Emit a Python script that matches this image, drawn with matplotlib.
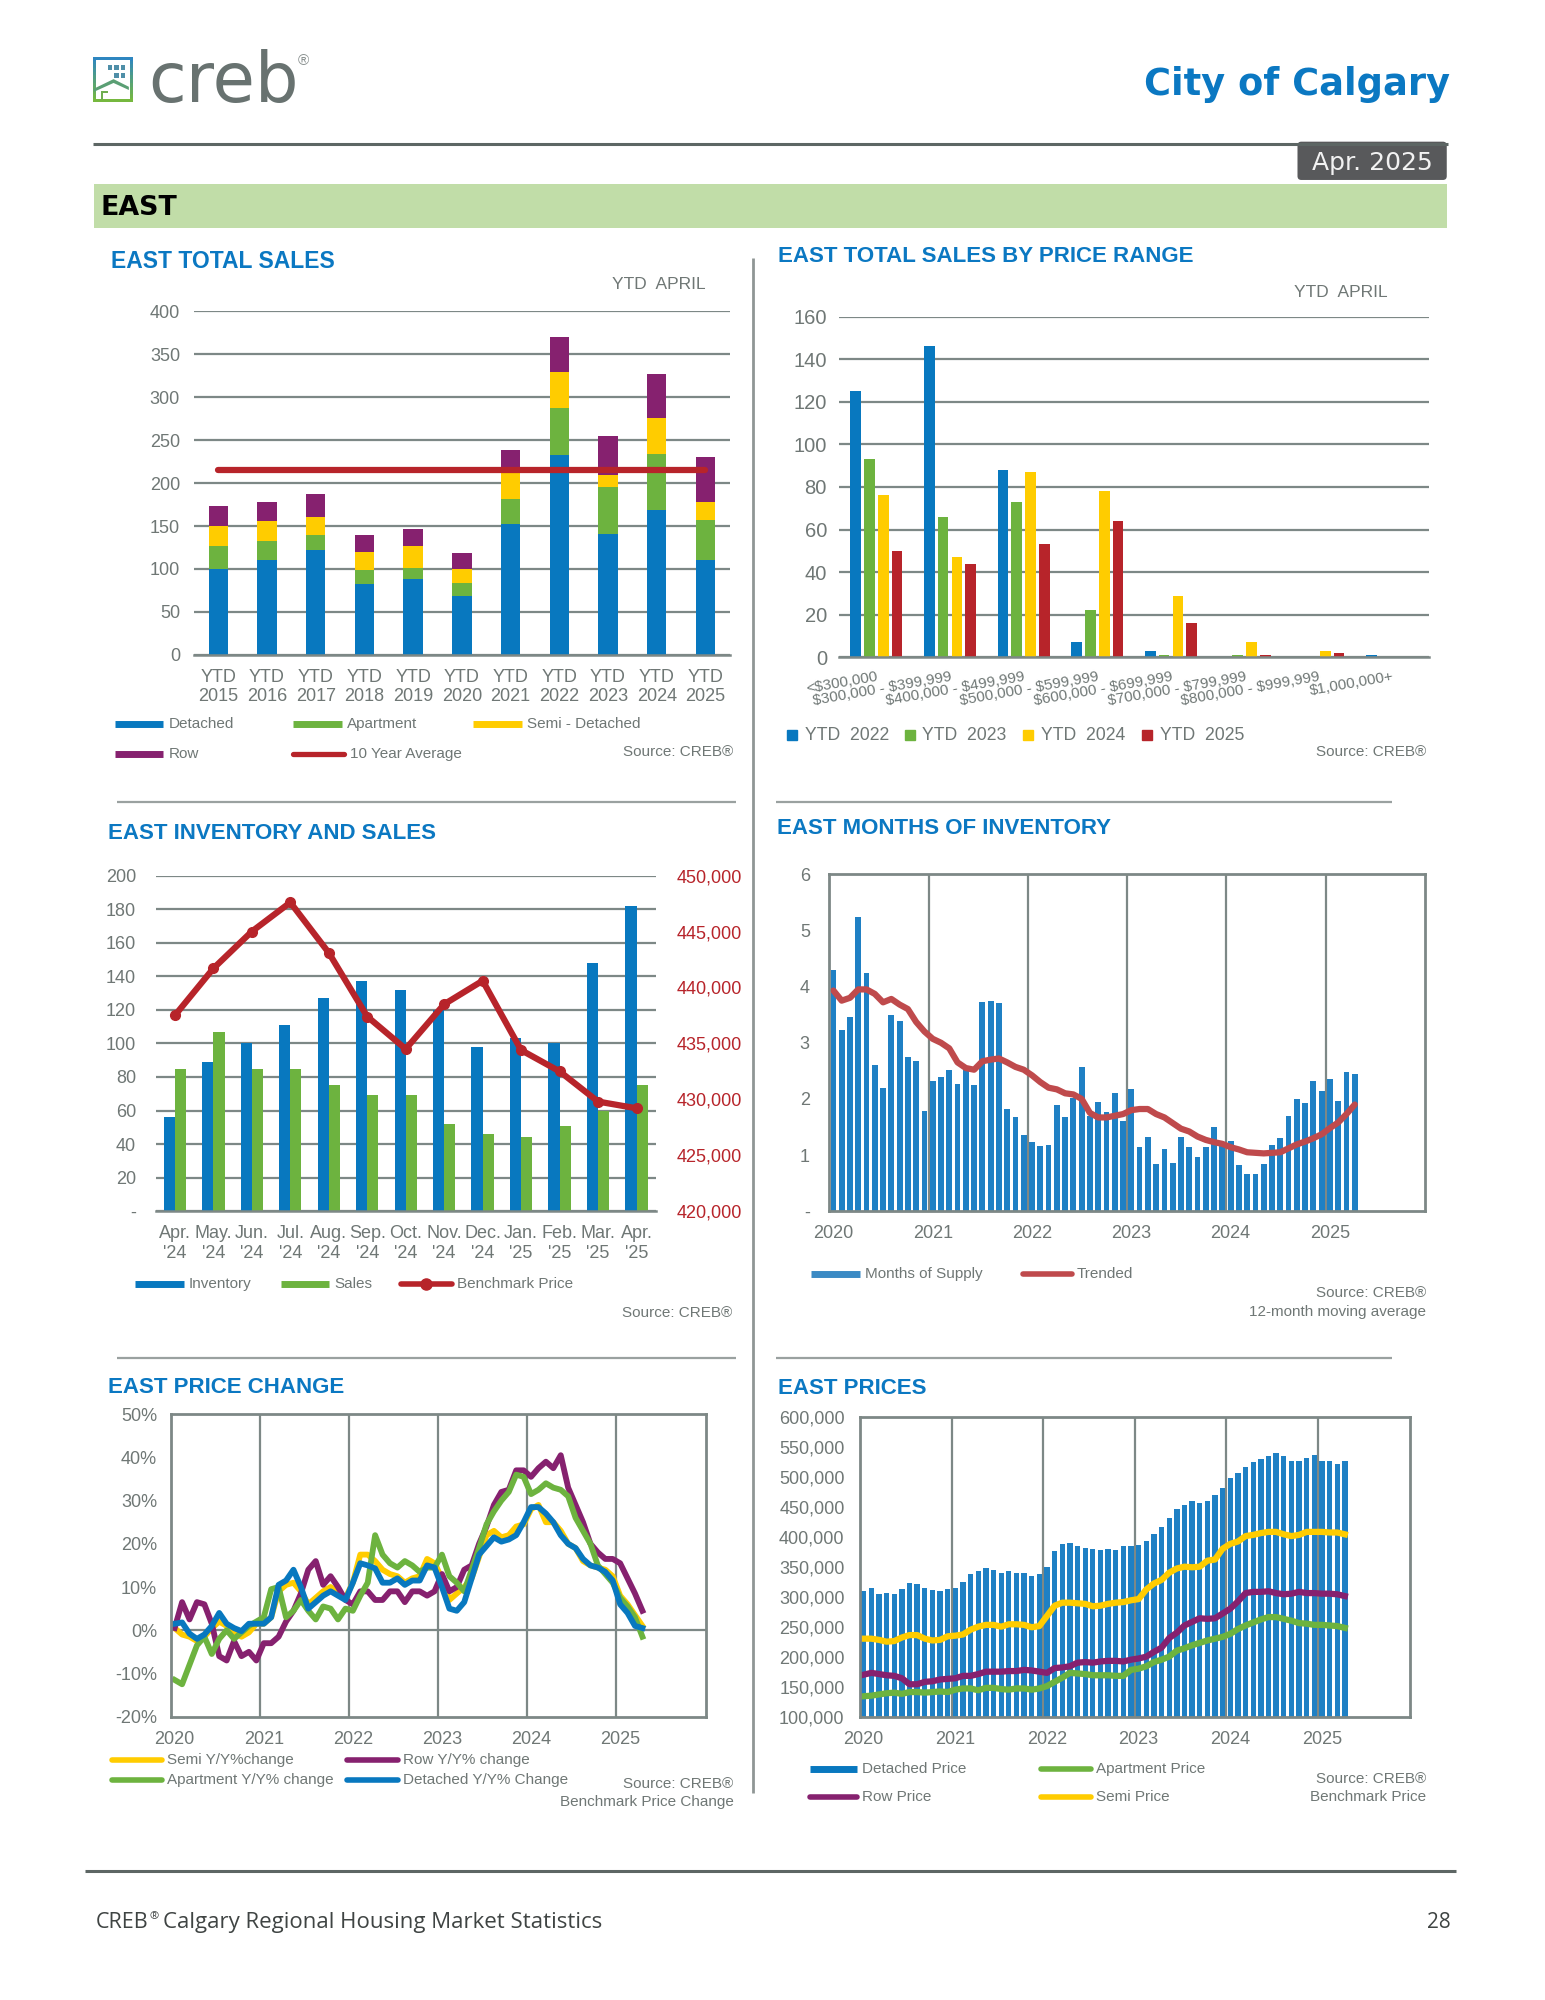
#!/usr/bin/env python3
# -*- coding: utf-8 -*-
import matplotlib
matplotlib.use("Agg")
import numpy as np
import matplotlib.pyplot as plt
from matplotlib.colors import to_rgb
from matplotlib.patches import Rectangle, FancyBboxPatch, Polygon
from matplotlib.ticker import FuncFormatter

plt.rcParams['font.family'] = ['Liberation Sans', 'DejaVu Sans']
plt.rcParams['text.parse_math'] = False

# Total sales, YTD april
ytd_years = ["YTD\n2015", "YTD\n2016", "YTD\n2017", "YTD\n2018", "YTD\n2019", "YTD\n2020",
             "YTD\n2021", "YTD\n2022", "YTD\n2023", "YTD\n2024", "YTD\n2025"]
sales_detached = [100, 110, 122, 82, 88, 69, 152, 233, 141, 169, 110]
sales_apartment = [27, 22, 17, 17, 13, 15, 29, 55, 55, 65, 47]
sales_semi = [23, 24, 21, 21, 26, 16, 33, 41, 13, 42, 21]
sales_row = [23, 22, 27, 20, 20, 19, 24, 41, 46, 51, 52]
ten_year_avg = [215] * 11

# Sales by price range
price_ranges = ["<$300,000", "$300,000 - $399,999", "$400,000 - $499,999", "$500,000 - $599,999",
                "$600,000 - $699,999", "$700,000 - $799,999", "$800,000 - $999,999", "$1,000,000+"]
range_2022 = [125, 146, 88, 7, 3, 0, 0, 1]
range_2023 = [93, 66, 73, 22, 1, 1, 0, 0]
range_2024 = [76, 47, 87, 78, 29, 7, 3, 0]
range_2025 = [50, 44, 53, 64, 16, 1, 2, 0]

# Inventory and sales
inv_months = ["Apr.\n'24", "May.\n'24", "Jun.\n'24", "Jul.\n'24", "Aug.\n'24", "Sep.\n'24", "Oct.\n'24",
              "Nov.\n'24", "Dec.\n'24", "Jan.\n'25", "Feb.\n'25", "Mar.\n'25", "Apr.\n'25"]
inventory = [56, 89, 100, 111, 127, 137, 132, 120, 98, 103, 100, 148, 182]
inv_sales = [85, 107, 85, 85, 75, 69, 69, 52, 46, 44, 51, 60, 75]
benchmark = [437500, 441700, 445000, 447600, 443100, 437400, 434500, 438500, 440600,
             434400, 432500, 429800, 429200]

# Monthly series, Jan 2020 to Apr 2025
year_labels = ["2020", "2021", "2022", "2023", "2024", "2025"]
months_supply = [4.3, 3.23, 3.46, 5.24, 4.24, 2.6, 2.2, 3.5, 3.38, 2.74, 2.67, 1.78,
                 2.32, 2.39, 2.51, 2.26, 2.55, 2.25, 3.72, 3.74, 3.71, 1.82, 1.67, 1.35,
                 1.23, 1.17, 1.18, 1.9, 1.68, 2.02, 2.56, 1.7, 1.95, 1.76, 2.1, 1.6,
                 2.17, 1.15, 1.33, 0.84, 1.1, 0.85, 1.32, 1.15, 0.96, 1.15, 1.5, 1.2,
                 1.25, 0.82, 0.66, 0.67, 0.84, 1.18, 1.31, 1.7, 2.0, 1.92, 2.32, 2.14,
                 2.35, 1.97, 2.48, 2.44]
trended = [3.93, 3.75, 3.8, 3.95, 3.95, 3.87, 3.72, 3.78, 3.68, 3.6, 3.37, 3.2,
           3.07, 3.0, 2.9, 2.65, 2.55, 2.52, 2.67, 2.7, 2.72, 2.65, 2.57, 2.52,
           2.42, 2.3, 2.2, 2.17, 2.1, 2.08, 2.0, 1.75, 1.67, 1.67, 1.7, 1.73,
           1.8, 1.82, 1.82, 1.73, 1.67, 1.57, 1.47, 1.42, 1.33, 1.27, 1.23, 1.2,
           1.14, 1.1, 1.05, 1.04, 1.03, 1.04, 1.05, 1.12, 1.19, 1.24, 1.3, 1.37,
           1.48, 1.58, 1.73, 1.9]

chg_detached = [1.5, 1.8, -0.8, -2, -1, 1, 4, 1.5, 0.5, -0.2, 1.5, 1.5,
                1.5, 3, 10.5, 11.5, 14, 10, 5, 6.5, 8, 9, 8, 7,
                11, 15.5, 15, 14.3, 11, 11, 12, 10.5, 11.5, 11.5, 15, 14.5,
                10, 5, 4.5, 6.5, 12, 17.5, 19.5, 21.5, 20.5, 21, 22, 25,
                28.5, 28.5, 27, 25, 22, 20, 19, 16.5, 15, 14.5, 13.5, 11.5,
                6, 4, 1, 0.5]
chg_semi = [0.5, -1, -1.5, -2.5, -1.5, 0.5, 2, 1, -0.5, -1.5, -0.5, 1.5,
            1.5, 3, 9, 10.5, 11, 9, 6, 7.5, 9, 10, 8.5, 7.5,
            11, 17.5, 17.5, 16, 14, 13, 12.5, 11, 12, 12.5, 16.5, 15.5,
            12, 7, 8.5, 10, 12, 17, 22, 23, 21.5, 22, 24, 24.5,
            28, 29, 25, 25, 23, 20, 19, 16, 15, 14.5, 14, 12.5,
            8, 6, 3.5, 1]
chg_apartment = [-11.5, -12.5, -8, -3.5, -1.5, -5.5, -2, 0, -2, -0.5, 1, 2,
                 3, 9.5, 10, 3, 4.5, 7, 4.5, 2.5, 5.5, 5, 2.5, 5,
                 4.5, 8, 11, 22, 17.5, 15.5, 14.5, 16, 15, 13.5, 14.5, 14.5,
                 17.5, 12.5, 11, 9, 14, 19, 24.5, 27.5, 30, 32, 36, 35.5,
                 31.5, 32.5, 34, 33, 32.5, 31, 26, 23, 20, 15, 13, 11,
                 7.5, 5.5, 3, -1.5]
chg_row = [0.5, 6.5, 2.5, 6.5, 6, 1.5, -6, -7, -2.5, -6, -5, -7,
           -3, -3, -1.5, 2, 4.5, 8.5, 14, 16, 10.5, 12.5, 10, 7,
           6, 9, 9, 7, 7, 9, 9, 6.5, 9, 9, 8, 9,
           13, 9, 10, 14, 15, 20, 24, 29, 32, 32.5, 37, 37,
           35.5, 37.5, 39, 37.5, 40.5, 33, 29, 25, 20, 18, 16.5, 16.5,
           15.5, 12, 8.5, 4.5]

price_detached = [310, 315, 305, 306, 305, 312, 322, 321, 314, 311, 309, 313,
                  314, 324, 338, 342, 347, 345, 339, 342, 340, 340, 335, 337,
                  350, 376, 388, 390, 384, 381, 379, 378, 379, 378, 384, 385,
                  386, 393, 405, 416, 431, 447, 453, 459, 457, 459, 469, 481,
                  498, 506, 517, 524, 530, 534, 539, 535, 527, 526, 532, 536,
                  526, 526, 522, 526]
price_semi = [230, 230, 228, 225, 226, 232, 236, 236, 230, 227, 228, 234,
              235, 237, 245, 250, 253, 253, 250, 254, 254, 253, 249, 251,
              268, 285, 290, 290, 289, 288, 284, 285, 288, 290, 291, 294,
              296, 312, 322, 328, 340, 347, 350, 349, 350, 360, 362, 380,
              388, 392, 401, 403, 406, 408, 408, 404, 401, 403, 408, 408,
              408, 407, 407, 404]
price_row = [170, 173, 171, 169, 168, 164, 154, 154, 158, 159, 162, 163,
             164, 168, 168, 171, 175, 175, 175, 176, 176, 178, 177, 175,
             173, 181, 182, 184, 190, 191, 190, 192, 193, 193, 192, 195,
             197, 200, 208, 215, 231, 240, 252, 258, 264, 263, 264, 272,
             280, 292, 306, 308, 308, 309, 306, 304, 305, 308, 306, 306,
             305, 305, 304, 301]
price_apartment = [134, 135, 137, 139, 140, 138, 141, 141, 140, 141, 142, 141,
                   145, 147, 147, 144, 148, 148, 146, 145, 147, 147, 145, 147,
                   151, 158, 165, 173, 172, 171, 169, 169, 169, 168, 168, 178,
                   180, 184, 191, 195, 200, 210, 214, 219, 223, 227, 230, 233,
                   238, 246, 252, 257, 262, 266, 266, 263, 260, 256, 255, 253,
                   253, 252, 251, 248]

# Colours
BLUE = '#0878bf'
GREEN = '#6db33f'
YELLOW = '#ffcc00'
PURPLE = '#86216f'
RED = '#b7242a'
GRID = '#7d8886'
TEXT = '#6f7775'
TITLE = '#0b78c2'
WIDE = ['DejaVu Sans']

# Page layout in pixels of the frame
W, H = 1211, 1567
fig = plt.figure(figsize=(15.45, 20), dpi=100)


def add_axes(x0, y0, x1, y1):
    ax = fig.add_axes([x0/W, 1 - y1/H, (x1 - x0)/W, (y1 - y0)/H])
    ax.set_axisbelow(True)
    ax.tick_params(length=0, labelsize=13, labelcolor=TEXT, pad=8)
    return ax


def hgrid_axes(x0, y0, x1, y1):
    ax = add_axes(x0, y0, x1, y1)
    ax.grid(axis='y', color=GRID, lw=1.6)
    for s in ['top', 'left', 'right']:
        ax.spines[s].set_visible(False)
    ax.spines['bottom'].set_color(GRID)
    ax.spines['bottom'].set_linewidth(1.8)
    return ax


def box_axes(x0, y0, x1, y1):
    ax = add_axes(x0, y0, x1, y1)
    ax.set_xlim(-0.5, 71.5)
    ax.set_xticks(np.arange(0, 72, 12), year_labels)
    for v in np.arange(11.5, 71, 12):
        ax.axvline(v, color=GRID, lw=1.6, zorder=0.5)
    for s in ax.spines.values():
        s.set_color(GRID)
        s.set_linewidth(2)
    return ax


# Chart 1
ax1 = hgrid_axes(152, 244, 572, 513)
x = np.arange(len(ytd_years))
bottom = np.zeros(len(x))
for vals, col in [(sales_detached, BLUE), (sales_apartment, GREEN), (sales_semi, YELLOW), (sales_row, PURPLE)]:
    ax1.bar(x, vals, 0.4, bottom=bottom, color=col)
    bottom += np.array(vals)
ax1.plot(x, ten_year_avg, color=RED, lw=4.5, solid_capstyle='round')
ax1.set_xlim(-0.5, 10.5)
ax1.set_ylim(0, 400)
ax1.set_yticks(np.arange(0, 401, 50))
ax1.set_xticks(x, ytd_years, linespacing=1.15)
ax1.tick_params(axis='x', pad=10)
ax1.tick_params(axis='y', pad=10)

# Chart 2
ax2 = hgrid_axes(658, 248, 1120, 515)
x = np.arange(len(price_ranges))
for k, (vals, col) in enumerate([(range_2022, BLUE), (range_2023, GREEN), (range_2024, YELLOW), (range_2025, RED)]):
    ax2.bar(x + (k - 1.5)*0.1875, vals, 0.145, color=col)
ax2.set_xlim(-0.5, 7.5)
ax2.set_ylim(0, 160)
ax2.set_yticks(np.arange(0, 161, 20))
ax2.tick_params(axis='y', labelsize=14.5, pad=9)
ax2.set_xticks(x, price_ranges, rotation=10, ha='right', rotation_mode='anchor', fontsize=11)
ax2.tick_params(axis='x', pad=9)

# Chart 3
ax3 = hgrid_axes(122, 686, 514, 949)
x = np.arange(len(inv_months))
ax3.bar(x - 0.145, inventory, 0.29, color=BLUE)
ax3.bar(x + 0.145, inv_sales, 0.29, color=GREEN)
ax3.set_xlim(-0.5, 12.5)
ax3.set_ylim(0, 200)
ax3.set_yticks(np.arange(0, 201, 20))
ax3.yaxis.set_major_formatter(FuncFormatter(lambda v, p: '-' if v == 0 else f'{v:.0f}'))
ax3.set_xticks(x, inv_months, linespacing=1.25)
ax3.tick_params(axis='x', labelsize=13, pad=10)
ax3.tick_params(axis='y', pad=14)
ax3b = ax3.twinx()
ax3b.plot(x, benchmark, color=RED, lw=4.5, marker='o', ms=7)
ax3b.set_ylim(420000, 450000)
ax3b.set_yticks(np.arange(420000, 450001, 5000))
ax3b.yaxis.set_major_formatter(FuncFormatter(lambda v, p: f'{v:,.0f}'))
ax3b.tick_params(length=0, labelsize=13, labelcolor=RED, pad=15)
for s in ax3b.spines.values():
    s.set_visible(False)

# Chart 4
ax4 = box_axes(650, 685, 1117, 949)
x = np.arange(len(months_supply))
ax4.bar(x, months_supply, 0.7, color='#1f80c4')
ax4.plot(x, trended, color='#bf4a4c', lw=4.5, solid_capstyle='round')
ax4.set_ylim(0, 6)
ax4.set_yticks(np.arange(0, 7))
ax4.yaxis.set_major_formatter(FuncFormatter(lambda v, p: '-' if v == 0 else f'{v:.0f}'))
ax4.tick_params(axis='x', pad=10)
ax4.tick_params(axis='y', pad=14)

# Chart 5
ax5 = box_axes(134, 1108, 553, 1345)
x = np.arange(len(chg_row))
ax5.axhline(0, color=GRID, lw=1.6, zorder=0.5)
ax5.plot(x, chg_semi, color=YELLOW, lw=4.2)
ax5.plot(x, chg_row, color=PURPLE, lw=4.2)
ax5.plot(x, chg_apartment, color=GREEN, lw=4.2)
ax5.plot(x, chg_detached, color=BLUE, lw=4.2)
ax5.set_ylim(-20, 50)
ax5.set_yticks(np.arange(-20, 51, 10))
ax5.yaxis.set_major_formatter(FuncFormatter(lambda v, p: f'{v:.0f}%'))
ax5.tick_params(axis='x', pad=10)
ax5.tick_params(axis='y', pad=10)

# Chart 6 (thousands on the data side)
ax6 = box_axes(674, 1110, 1105, 1345)
x = np.arange(len(price_detached))
ax6.bar(x, price_detached, 0.7, color='#1f80c4')
ax6.plot(x, price_apartment, color=GREEN, lw=4.5)
ax6.plot(x, price_row, color=PURPLE, lw=4.5)
ax6.plot(x, price_semi, color=YELLOW, lw=4.5)
ax6.set_ylim(100, 600)
ax6.set_yticks(np.arange(100, 601, 50))
ax6.yaxis.set_major_formatter(FuncFormatter(lambda v, p: f'{v*1000:,.0f}'))
ax6.tick_params(axis='y', pad=11)
ax6.tick_params(axis='x', pad=10)

# Overlay for page furniture, in frame pixels
ov = fig.add_axes([0, 0, 1, 1], zorder=10)
ov.set_xlim(0, W)
ov.set_ylim(H, 0)
ov.axis('off')


def rule(x0, x1, y0, y1=None, color=GRID, lw=1.6):
    ov.plot([x0, x1], [y0, y0 if y1 is None else y1], color=color, lw=lw, solid_capstyle='butt')


def label(x, y, s, ha='left', size=11, color=TEXT, va='center', **kw):
    ov.text(x, y, s, ha=ha, va=va, fontsize=size, color=color, **kw)


def legend_line(x0, x1, y, color, s, lw=5, marker=None):
    ov.plot([x0, x1], [y, y], color=color, lw=lw, solid_capstyle='round' if marker or lw < 5 else 'butt')
    if marker:
        ov.plot([(x0 + x1)/2], [y], color=color, marker=marker, ms=8)
    label(x1 + 4, y, s)


# Logo: frame fading from blue to green, windows and a house
top_col, bot_col = np.array(to_rgb('#2e86c0')), np.array(to_rgb('#76b83f'))
n_seg = 12
for i in range(n_seg):
    f = i/(n_seg - 1)
    col = tuple(top_col*(1 - f) + bot_col*f)
    y0 = 44.5 + i*35/n_seg
    ov.add_patch(Rectangle((73, y0), 2.5, 35/n_seg + 0.3, fc=col, ec='none'))
    ov.add_patch(Rectangle((102, y0), 2.5, 35/n_seg + 0.3, fc=col, ec='none'))
ov.add_patch(Rectangle((73, 44.5), 31.5, 2.5, fc=top_col, ec='none'))
ov.add_patch(Rectangle((73, 77.5), 31.5, 2.5, fc=bot_col, ec='none'))
ov.add_patch(Rectangle((75.5, 62), 4, 9, fc='white', ec='none'))
for wx, wy in [(84.5, 51), (89.5, 51), (94.5, 51), (89.5, 57), (94.5, 57)]:
    ov.add_patch(Rectangle((wx, wy), 3.5, 4, fc='#4f8fa8', ec='none'))
ov.add_patch(Polygon([[73.5, 69.5], [89, 62], [101, 68], [101, 70.5], [89, 65], [73.5, 72]], fc='#5a9f74', ec='none'))
ov.add_patch(Rectangle((79, 71), 2, 7, fc='#6fae50', ec='none'))
ov.add_patch(Rectangle((79, 71), 6, 2, fc='#6fae50', ec='none'))

label(116, 80, "creb", size=49.5, color='#687270', va='baseline', family=WIDE)
label(238, 48, "®", ha='center', size=11, color='#8a9190')

# Header
label(1137, 66, "City of Calgary", ha='right', size=26.5, color=TITLE, weight='bold', family=WIDE)
rule(73, 1135, 113, color='#5d6664', lw=2.2)
ov.add_patch(FancyBboxPatch((1020, 114), 111, 24, boxstyle='round,pad=3', fc='#58595b', ec='none'))
label(1076, 128, "Apr. 2025", ha='center', size=18, color='#f2f2f2', family=WIDE)
ov.add_patch(Rectangle((74, 144), 1060, 34.5, fc='#c1dda8', ec='none'))
label(79, 163, "EAST", size=19.4, color='#000000', weight='bold', family=WIDE)

# Section rules
rule(590, 590, 202, 1405, color='#8f9695', lw=2)
rule(92, 577, 628, color='#9aa1a0')
rule(608, 1091, 628, color='#9aa1a0')
rule(92, 577, 1064, color='#9aa1a0')
rule(608, 1091, 1064, color='#9aa1a0')

# Titles
for tx, ty, s, sz in [(87, 205, "EAST TOTAL SALES", 16.5), (610, 201, "EAST TOTAL SALES BY PRICE RANGE", 16),
                      (85, 653, "EAST INVENTORY AND SALES", 16), (609, 649, "EAST MONTHS OF INVENTORY", 16),
                      (85, 1087, "EAST PRICE CHANGE", 16), (610, 1088, "EAST PRICES", 16)]:
    label(tx, ty, s, size=sz, color=TITLE, weight='bold')

label(516, 223, "YTD  APRIL", ha='center', size=12.5)
label(1051, 229, "YTD  APRIL", ha='center', size=12.5)

# Legends
legend_line(90, 128, 567, BLUE, "Detached")
legend_line(230, 268, 567, GREEN, "Apartment")
legend_line(371, 409, 567, YELLOW, "Semi - Detached")
legend_line(90, 128, 591, PURPLE, "Row")
legend_line(230, 270, 591, RED, "10 Year Average", lw=3.8)
for bx, col, s in [(621, BLUE, "YTD  2022"), (713, GREEN, "YTD  2023"), (806, YELLOW, "YTD  2024"), (899, RED, "YTD  2025")]:
    ov.plot([bx], [576], marker='s', ms=7.5, color=col, ls='none')
    label(bx + 10, 576.5, s, size=12.7)
legend_line(106, 144, 1006, BLUE, "Inventory")
legend_line(220, 258, 1006, GREEN, "Sales")
legend_line(314, 354, 1006, RED, "Benchmark Price", lw=4, marker='o')
legend_line(636, 674, 998, '#3b8ac4', "Months of Supply")
legend_line(802, 840, 998, '#bf4a4c', "Trended", lw=4)
legend_line(88, 127, 1379, YELLOW, "Semi Y/Y%change", lw=4)
legend_line(272, 312, 1379, PURPLE, "Row Y/Y% change", lw=4)
legend_line(88, 127, 1395, GREEN, "Apartment Y/Y% change", lw=4)
legend_line(272, 312, 1395, BLUE, "Detached Y/Y% Change", lw=4)
legend_line(635, 672, 1386, BLUE, "Detached Price")
legend_line(816, 855, 1386, GREEN, "Apartment Price", lw=4)
legend_line(635, 672, 1408, PURPLE, "Row Price", lw=4)
legend_line(816, 855, 1408, YELLOW, "Semi Price", lw=4)

# Sources
for rx, ry, s in [(575, 589, "Source: CREB®"), (1118, 589, "Source: CREB®"), (574, 1029, "Source: CREB®"),
                  (1118, 1013, "Source: CREB®"), (1118, 1028, "12-month moving average"),
                  (575, 1398, "Source: CREB®"), (575, 1412, "Benchmark Price Change"),
                  (1118, 1394, "Source: CREB®"), (1118, 1408, "Benchmark Price")]:
    label(rx, ry, s, ha='right')

# Footer
rule(67, 1141, 1466, color='#5d6664', lw=2.2)
FOOT = ['Open Sans', 'DejaVu Sans']
label(75, 1506, "CREB", size=15.5, color='#3f4443', family=FOOT)
label(117.5, 1502, "®", size=8, color='#3f4443', family=FOOT)
label(128, 1506, "Calgary Regional Housing Market Statistics", size=16, color='#3f4443', family=FOOT)
label(1137, 1506, "28", ha='right', size=15, color='#3f4443', family=FOOT)

fig.savefig('out.png', dpi=100)
